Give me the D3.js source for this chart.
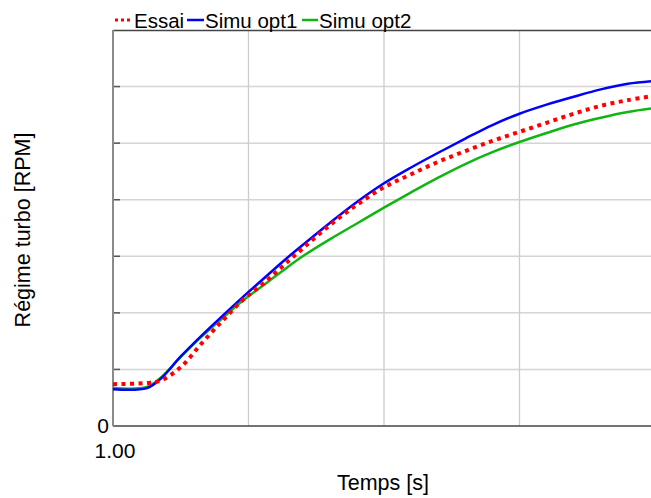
<!DOCTYPE html>
<html>
<head>
<meta charset="utf-8">
<script src="https://cdn.jsdelivr.net/npm/d3@7"></script>
<style>
  html, body { margin: 0; padding: 0; background: #fff; }
  svg { display: block; font-family: "Liberation Sans", Arial, sans-serif; }
</style>
</head>
<body>
<svg id="chart" width="651" height="498"></svg>
<script>
// Data (time in s, turbo speed in arbitrary axis units)
const time = [1.00, 1.25, 1.35, 1.50, 1.65, 1.80, 1.95, 2.10, 2.25, 2.40, 2.60, 2.80, 3.00, 3.20, 3.40, 3.60, 3.80, 4.00, 4.20, 4.40, 4.60, 4.80, 5.00];
const essai = [0.74, 0.76, 0.80, 1.04, 1.45, 1.84, 2.21, 2.50, 2.82, 3.14, 3.55, 3.91, 4.22, 4.45, 4.67, 4.86, 5.04, 5.20, 5.36, 5.52, 5.66, 5.76, 5.84];
const simuOpt1 = [0.65, 0.67, 0.83, 1.23, 1.59, 1.93, 2.26, 2.58, 2.90, 3.20, 3.59, 3.96, 4.29, 4.57, 4.83, 5.08, 5.32, 5.52, 5.68, 5.82, 5.95, 6.05, 6.10];
const simuOpt2 = [0.67, 0.69, 0.85, 1.22, 1.57, 1.89, 2.20, 2.47, 2.74, 3.00, 3.30, 3.58, 3.86, 4.13, 4.39, 4.63, 4.84, 5.02, 5.18, 5.33, 5.45, 5.55, 5.62];
const seriesNames = ["Essai", "Simu opt1", "Simu opt2"];
const seriesColors = ["#ff0000", "#0000ff", "#11b511"];
const xGridValues = [2, 3, 4];
const yGridValues = [1, 2, 3, 4, 5, 6];
const xTickLabel = "1.00";
const yTickLabel = "0";
const xTitle = "Temps [s]";
const yTitle = "Régime turbo [RPM]";

(function () {
const svg = d3.select("#chart");
const pLeft = 113, pTop = 30, pBottom = 426, pRightEnd = 655;
const x = d3.scaleLinear().domain([1, 5]).range([pLeft, pRightEnd]);
const y = d3.scaleLinear().domain([0, 7]).range([pBottom, pTop]);

svg.append("defs").append("clipPath").attr("id", "plotclip")
  .append("rect").attr("x", pLeft).attr("y", pTop).attr("width", 651 - pLeft).attr("height", pBottom - pTop);

// grid
const grid = svg.append("g");
grid.selectAll("line.h").data(yGridValues).join("line")
  .attr("x1", pLeft).attr("x2", 651).attr("y1", d => y(d)).attr("y2", d => y(d))
  .attr("stroke", "#d4d4d4").attr("stroke-width", 1.5);
grid.selectAll("line.v").data(xGridValues).join("line")
  .attr("x1", d => x(d)).attr("x2", d => x(d)).attr("y1", pTop).attr("y2", pBottom)
  .attr("stroke", "#cccccc").attr("stroke-width", 1.3);

// left ticks
svg.append("g").selectAll("line").data(yGridValues).join("line")
  .attr("x1", pLeft).attr("x2", pLeft + 7).attr("y1", d => y(d)).attr("y2", d => y(d))
  .attr("stroke", "#555").attr("stroke-width", 1.5);

// frame
svg.append("line").attr("x1", pLeft).attr("x2", 651).attr("y1", pTop + 0.5).attr("y2", pTop + 0.5)
  .attr("stroke", "#444").attr("stroke-width", 1.5);
svg.append("line").attr("x1", pLeft).attr("x2", 651).attr("y1", pBottom).attr("y2", pBottom)
  .attr("stroke", "#444").attr("stroke-width", 1.5);
svg.append("line").attr("x1", pLeft).attr("x2", pLeft).attr("y1", pTop).attr("y2", pBottom)
  .attr("stroke", "#8a8a8a").attr("stroke-width", 2);

// lines
const line = d3.line().x((d, i) => x(time[i])).y(d => y(d)).curve(d3.curveCatmullRom.alpha(0.5));
const plot = svg.append("g").attr("clip-path", "url(#plotclip)");
plot.append("path").datum(simuOpt2).attr("d", line).attr("fill", "none")
  .attr("stroke", seriesColors[2]).attr("stroke-width", 2.5);
plot.append("path").datum(simuOpt1).attr("d", line).attr("fill", "none")
  .attr("stroke", seriesColors[1]).attr("stroke-width", 2.5);
plot.append("path").datum(essai).attr("d", line).attr("fill", "none")
  .attr("stroke", seriesColors[0]).attr("stroke-width", 4).attr("stroke-dasharray", "4,4.5");

// tick labels
svg.append("text").attr("x", 109).attr("y", 433).attr("text-anchor", "end")
  .attr("font-size", 21).attr("fill", "#000").text(yTickLabel);
svg.append("text").attr("x", 115).attr("y", 458).attr("text-anchor", "middle")
  .attr("font-size", 21).attr("fill", "#000").text(xTickLabel);

// axis titles
svg.append("text").attr("x", 383).attr("y", 490).attr("text-anchor", "middle")
  .attr("font-size", 21.5).attr("fill", "#000").text(xTitle);
svg.append("text").attr("transform", "translate(30,230) rotate(-90)").attr("text-anchor", "middle")
  .attr("font-size", 21.5).attr("fill", "#000").text(yTitle);

// legend
const legendItems = [
  {sx: 115, ex: 132, tx: 134, dash: "3,3", w: 3},
  {sx: 187, ex: 204, tx: 205, dash: null, w: 2.5},
  {sx: 302, ex: 318, tx: 319, dash: null, w: 2.5}
];
const lg = svg.append("g");
legendItems.forEach((it, i) => {
  const l = lg.append("line").attr("x1", it.sx).attr("x2", it.ex).attr("y1", 20).attr("y2", 20)
    .attr("stroke", seriesColors[i]).attr("stroke-width", it.w);
  if (it.dash) l.attr("stroke-dasharray", it.dash);
  lg.append("text").attr("x", it.tx).attr("y", 28).attr("font-size", 20.5).attr("fill", "#000").text(seriesNames[i]);
});
})();
</script>
</body>
</html>
